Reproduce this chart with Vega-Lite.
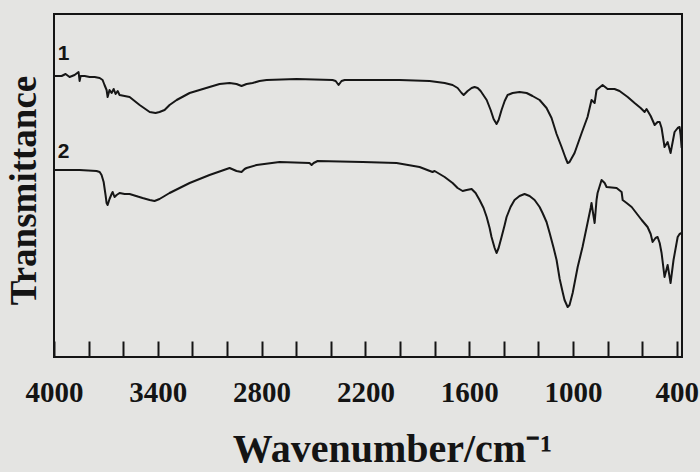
{
  "$schema": "https://vega.github.io/schema/vega-lite/v6.json",
  "width": 628,
  "height": 343,
  "autosize": {"type": "none"},
  "padding": {"left": 54, "top": 14, "right": 18, "bottom": 115},
  "background": "#e4e4e2",
  "config": {"view": {"stroke": "#141414", "strokeWidth": 2}},
  "datasets": {
    "spectra": [
      {"sample": "1", "wavenumber": 4000, "transmittance": 281},
      {"sample": "1", "wavenumber": 3956, "transmittance": 281},
      {"sample": "1", "wavenumber": 3933, "transmittance": 283},
      {"sample": "1", "wavenumber": 3910, "transmittance": 280},
      {"sample": "1", "wavenumber": 3881, "transmittance": 282},
      {"sample": "1", "wavenumber": 3858, "transmittance": 285},
      {"sample": "1", "wavenumber": 3852, "transmittance": 276},
      {"sample": "1", "wavenumber": 3846, "transmittance": 281},
      {"sample": "1", "wavenumber": 3823, "transmittance": 281},
      {"sample": "1", "wavenumber": 3794, "transmittance": 280},
      {"sample": "1", "wavenumber": 3765, "transmittance": 280},
      {"sample": "1", "wavenumber": 3736, "transmittance": 279},
      {"sample": "1", "wavenumber": 3719, "transmittance": 277},
      {"sample": "1", "wavenumber": 3708, "transmittance": 272},
      {"sample": "1", "wavenumber": 3696, "transmittance": 267},
      {"sample": "1", "wavenumber": 3690, "transmittance": 260},
      {"sample": "1", "wavenumber": 3679, "transmittance": 267},
      {"sample": "1", "wavenumber": 3667, "transmittance": 264},
      {"sample": "1", "wavenumber": 3655, "transmittance": 268},
      {"sample": "1", "wavenumber": 3644, "transmittance": 263},
      {"sample": "1", "wavenumber": 3632, "transmittance": 266},
      {"sample": "1", "wavenumber": 3621, "transmittance": 262},
      {"sample": "1", "wavenumber": 3592, "transmittance": 261},
      {"sample": "1", "wavenumber": 3563, "transmittance": 260},
      {"sample": "1", "wavenumber": 3505, "transmittance": 252},
      {"sample": "1", "wavenumber": 3447, "transmittance": 245},
      {"sample": "1", "wavenumber": 3413, "transmittance": 244},
      {"sample": "1", "wavenumber": 3390, "transmittance": 245},
      {"sample": "1", "wavenumber": 3361, "transmittance": 247},
      {"sample": "1", "wavenumber": 3332, "transmittance": 252},
      {"sample": "1", "wavenumber": 3291, "transmittance": 257},
      {"sample": "1", "wavenumber": 3216, "transmittance": 264},
      {"sample": "1", "wavenumber": 3101, "transmittance": 270},
      {"sample": "1", "wavenumber": 3043, "transmittance": 273},
      {"sample": "1", "wavenumber": 2985, "transmittance": 274},
      {"sample": "1", "wavenumber": 2945, "transmittance": 273},
      {"sample": "1", "wavenumber": 2916, "transmittance": 271},
      {"sample": "1", "wavenumber": 2887, "transmittance": 273},
      {"sample": "1", "wavenumber": 2852, "transmittance": 274},
      {"sample": "1", "wavenumber": 2812, "transmittance": 276},
      {"sample": "1", "wavenumber": 2771, "transmittance": 277},
      {"sample": "1", "wavenumber": 2598, "transmittance": 278},
      {"sample": "1", "wavenumber": 2390, "transmittance": 277},
      {"sample": "1", "wavenumber": 2372, "transmittance": 276},
      {"sample": "1", "wavenumber": 2355, "transmittance": 272},
      {"sample": "1", "wavenumber": 2338, "transmittance": 276},
      {"sample": "1", "wavenumber": 2320, "transmittance": 277},
      {"sample": "1", "wavenumber": 2002, "transmittance": 277},
      {"sample": "1", "wavenumber": 1829, "transmittance": 276},
      {"sample": "1", "wavenumber": 1742, "transmittance": 274},
      {"sample": "1", "wavenumber": 1696, "transmittance": 272},
      {"sample": "1", "wavenumber": 1667, "transmittance": 269},
      {"sample": "1", "wavenumber": 1644, "transmittance": 264},
      {"sample": "1", "wavenumber": 1632, "transmittance": 262},
      {"sample": "1", "wavenumber": 1609, "transmittance": 266},
      {"sample": "1", "wavenumber": 1586, "transmittance": 269},
      {"sample": "1", "wavenumber": 1569, "transmittance": 270},
      {"sample": "1", "wavenumber": 1551, "transmittance": 269},
      {"sample": "1", "wavenumber": 1534, "transmittance": 266},
      {"sample": "1", "wavenumber": 1499, "transmittance": 257},
      {"sample": "1", "wavenumber": 1476, "transmittance": 247},
      {"sample": "1", "wavenumber": 1459, "transmittance": 238},
      {"sample": "1", "wavenumber": 1442, "transmittance": 233},
      {"sample": "1", "wavenumber": 1430, "transmittance": 237},
      {"sample": "1", "wavenumber": 1413, "transmittance": 247},
      {"sample": "1", "wavenumber": 1395, "transmittance": 256},
      {"sample": "1", "wavenumber": 1378, "transmittance": 262},
      {"sample": "1", "wavenumber": 1349, "transmittance": 264},
      {"sample": "1", "wavenumber": 1309, "transmittance": 265},
      {"sample": "1", "wavenumber": 1268, "transmittance": 264},
      {"sample": "1", "wavenumber": 1234, "transmittance": 261},
      {"sample": "1", "wavenumber": 1193, "transmittance": 257},
      {"sample": "1", "wavenumber": 1153, "transmittance": 249},
      {"sample": "1", "wavenumber": 1124, "transmittance": 239},
      {"sample": "1", "wavenumber": 1095, "transmittance": 223},
      {"sample": "1", "wavenumber": 1066, "transmittance": 210},
      {"sample": "1", "wavenumber": 1043, "transmittance": 199},
      {"sample": "1", "wavenumber": 1031, "transmittance": 194},
      {"sample": "1", "wavenumber": 1020, "transmittance": 195},
      {"sample": "1", "wavenumber": 991, "transmittance": 204},
      {"sample": "1", "wavenumber": 950, "transmittance": 224},
      {"sample": "1", "wavenumber": 916, "transmittance": 240},
      {"sample": "1", "wavenumber": 893, "transmittance": 257},
      {"sample": "1", "wavenumber": 875, "transmittance": 254},
      {"sample": "1", "wavenumber": 864, "transmittance": 267},
      {"sample": "1", "wavenumber": 829, "transmittance": 272},
      {"sample": "1", "wavenumber": 800, "transmittance": 268},
      {"sample": "1", "wavenumber": 760, "transmittance": 268},
      {"sample": "1", "wavenumber": 731, "transmittance": 266},
      {"sample": "1", "wavenumber": 684, "transmittance": 260},
      {"sample": "1", "wavenumber": 644, "transmittance": 254},
      {"sample": "1", "wavenumber": 609, "transmittance": 249},
      {"sample": "1", "wavenumber": 586, "transmittance": 245},
      {"sample": "1", "wavenumber": 575, "transmittance": 248},
      {"sample": "1", "wavenumber": 551, "transmittance": 241},
      {"sample": "1", "wavenumber": 528, "transmittance": 232},
      {"sample": "1", "wavenumber": 511, "transmittance": 235},
      {"sample": "1", "wavenumber": 499, "transmittance": 235},
      {"sample": "1", "wavenumber": 488, "transmittance": 229},
      {"sample": "1", "wavenumber": 471, "transmittance": 210},
      {"sample": "1", "wavenumber": 453, "transmittance": 215},
      {"sample": "1", "wavenumber": 436, "transmittance": 204},
      {"sample": "1", "wavenumber": 424, "transmittance": 215},
      {"sample": "1", "wavenumber": 413, "transmittance": 225},
      {"sample": "1", "wavenumber": 395, "transmittance": 229},
      {"sample": "1", "wavenumber": 384, "transmittance": 230},
      {"sample": "1", "wavenumber": 378, "transmittance": 222},
      {"sample": "1", "wavenumber": 372, "transmittance": 209},
      {"sample": "2", "wavenumber": 4000, "transmittance": 187},
      {"sample": "2", "wavenumber": 3852, "transmittance": 187},
      {"sample": "2", "wavenumber": 3754, "transmittance": 186},
      {"sample": "2", "wavenumber": 3736, "transmittance": 185},
      {"sample": "2", "wavenumber": 3725, "transmittance": 182},
      {"sample": "2", "wavenumber": 3713, "transmittance": 175},
      {"sample": "2", "wavenumber": 3702, "transmittance": 162},
      {"sample": "2", "wavenumber": 3696, "transmittance": 154},
      {"sample": "2", "wavenumber": 3690, "transmittance": 152},
      {"sample": "2", "wavenumber": 3679, "transmittance": 158},
      {"sample": "2", "wavenumber": 3667, "transmittance": 163},
      {"sample": "2", "wavenumber": 3661, "transmittance": 165},
      {"sample": "2", "wavenumber": 3650, "transmittance": 160},
      {"sample": "2", "wavenumber": 3638, "transmittance": 162},
      {"sample": "2", "wavenumber": 3621, "transmittance": 164},
      {"sample": "2", "wavenumber": 3592, "transmittance": 163},
      {"sample": "2", "wavenumber": 3563, "transmittance": 163},
      {"sample": "2", "wavenumber": 3488, "transmittance": 159},
      {"sample": "2", "wavenumber": 3447, "transmittance": 157},
      {"sample": "2", "wavenumber": 3419, "transmittance": 156},
      {"sample": "2", "wavenumber": 3390, "transmittance": 158},
      {"sample": "2", "wavenumber": 3332, "transmittance": 164},
      {"sample": "2", "wavenumber": 3274, "transmittance": 169},
      {"sample": "2", "wavenumber": 3216, "transmittance": 174},
      {"sample": "2", "wavenumber": 3101, "transmittance": 182},
      {"sample": "2", "wavenumber": 2985, "transmittance": 189},
      {"sample": "2", "wavenumber": 2945, "transmittance": 186},
      {"sample": "2", "wavenumber": 2916, "transmittance": 185},
      {"sample": "2", "wavenumber": 2898, "transmittance": 188},
      {"sample": "2", "wavenumber": 2887, "transmittance": 189},
      {"sample": "2", "wavenumber": 2829, "transmittance": 192},
      {"sample": "2", "wavenumber": 2696, "transmittance": 195},
      {"sample": "2", "wavenumber": 2523, "transmittance": 194},
      {"sample": "2", "wavenumber": 2511, "transmittance": 192},
      {"sample": "2", "wavenumber": 2499, "transmittance": 194},
      {"sample": "2", "wavenumber": 2476, "transmittance": 196},
      {"sample": "2", "wavenumber": 2216, "transmittance": 195},
      {"sample": "2", "wavenumber": 2020, "transmittance": 194},
      {"sample": "2", "wavenumber": 1887, "transmittance": 190},
      {"sample": "2", "wavenumber": 1812, "transmittance": 185},
      {"sample": "2", "wavenumber": 1800, "transmittance": 186},
      {"sample": "2", "wavenumber": 1742, "transmittance": 180},
      {"sample": "2", "wavenumber": 1696, "transmittance": 174},
      {"sample": "2", "wavenumber": 1667, "transmittance": 169},
      {"sample": "2", "wavenumber": 1638, "transmittance": 166},
      {"sample": "2", "wavenumber": 1615, "transmittance": 167},
      {"sample": "2", "wavenumber": 1586, "transmittance": 168},
      {"sample": "2", "wavenumber": 1563, "transmittance": 164},
      {"sample": "2", "wavenumber": 1540, "transmittance": 157},
      {"sample": "2", "wavenumber": 1517, "transmittance": 149},
      {"sample": "2", "wavenumber": 1499, "transmittance": 140},
      {"sample": "2", "wavenumber": 1482, "transmittance": 129},
      {"sample": "2", "wavenumber": 1471, "transmittance": 120},
      {"sample": "2", "wavenumber": 1453, "transmittance": 109},
      {"sample": "2", "wavenumber": 1442, "transmittance": 104},
      {"sample": "2", "wavenumber": 1430, "transmittance": 109},
      {"sample": "2", "wavenumber": 1413, "transmittance": 120},
      {"sample": "2", "wavenumber": 1395, "transmittance": 132},
      {"sample": "2", "wavenumber": 1384, "transmittance": 140},
      {"sample": "2", "wavenumber": 1361, "transmittance": 150},
      {"sample": "2", "wavenumber": 1338, "transmittance": 157},
      {"sample": "2", "wavenumber": 1309, "transmittance": 161},
      {"sample": "2", "wavenumber": 1280, "transmittance": 163},
      {"sample": "2", "wavenumber": 1251, "transmittance": 161},
      {"sample": "2", "wavenumber": 1222, "transmittance": 157},
      {"sample": "2", "wavenumber": 1193, "transmittance": 150},
      {"sample": "2", "wavenumber": 1176, "transmittance": 144},
      {"sample": "2", "wavenumber": 1153, "transmittance": 135},
      {"sample": "2", "wavenumber": 1135, "transmittance": 124},
      {"sample": "2", "wavenumber": 1112, "transmittance": 109},
      {"sample": "2", "wavenumber": 1095, "transmittance": 97},
      {"sample": "2", "wavenumber": 1077, "transmittance": 78},
      {"sample": "2", "wavenumber": 1060, "transmittance": 65},
      {"sample": "2", "wavenumber": 1049, "transmittance": 57},
      {"sample": "2", "wavenumber": 1031, "transmittance": 50},
      {"sample": "2", "wavenumber": 1020, "transmittance": 52},
      {"sample": "2", "wavenumber": 1002, "transmittance": 64},
      {"sample": "2", "wavenumber": 973, "transmittance": 90},
      {"sample": "2", "wavenumber": 945, "transmittance": 110},
      {"sample": "2", "wavenumber": 916, "transmittance": 134},
      {"sample": "2", "wavenumber": 898, "transmittance": 149},
      {"sample": "2", "wavenumber": 893, "transmittance": 154},
      {"sample": "2", "wavenumber": 887, "transmittance": 147},
      {"sample": "2", "wavenumber": 875, "transmittance": 134},
      {"sample": "2", "wavenumber": 864, "transmittance": 157},
      {"sample": "2", "wavenumber": 858, "transmittance": 164},
      {"sample": "2", "wavenumber": 835, "transmittance": 177},
      {"sample": "2", "wavenumber": 817, "transmittance": 174},
      {"sample": "2", "wavenumber": 806, "transmittance": 170},
      {"sample": "2", "wavenumber": 748, "transmittance": 169},
      {"sample": "2", "wavenumber": 719, "transmittance": 165},
      {"sample": "2", "wavenumber": 713, "transmittance": 157},
      {"sample": "2", "wavenumber": 690, "transmittance": 154},
      {"sample": "2", "wavenumber": 661, "transmittance": 150},
      {"sample": "2", "wavenumber": 603, "transmittance": 137},
      {"sample": "2", "wavenumber": 569, "transmittance": 130},
      {"sample": "2", "wavenumber": 551, "transmittance": 123},
      {"sample": "2", "wavenumber": 540, "transmittance": 115},
      {"sample": "2", "wavenumber": 523, "transmittance": 119},
      {"sample": "2", "wavenumber": 511, "transmittance": 120},
      {"sample": "2", "wavenumber": 499, "transmittance": 114},
      {"sample": "2", "wavenumber": 488, "transmittance": 104},
      {"sample": "2", "wavenumber": 471, "transmittance": 80},
      {"sample": "2", "wavenumber": 453, "transmittance": 92},
      {"sample": "2", "wavenumber": 436, "transmittance": 74},
      {"sample": "2", "wavenumber": 419, "transmittance": 97},
      {"sample": "2", "wavenumber": 395, "transmittance": 120},
      {"sample": "2", "wavenumber": 384, "transmittance": 123},
      {"sample": "2", "wavenumber": 372, "transmittance": 124}
    ],
    "labels": [
      {"label": "1", "wavenumber": 3979, "transmittance": 297},
      {"label": "2", "wavenumber": 3979, "transmittance": 199}
    ]
  },
  "layer": [
    {
      "data": {"name": "spectra"},
      "mark": {"type": "line", "color": "#161616", "strokeWidth": 2, "strokeJoin": "round"},
      "encoding": {
        "x": {
          "field": "wavenumber",
          "type": "quantitative",
          "scale": {"domain": [4000, 370], "nice": false, "zero": false},
          "axis": {
            "values": [4000, 3800, 3600, 3400, 3200, 3000, 2800, 2600, 2400, 2200, 2000, 1800, 1600, 1400, 1200, 1000, 800, 600, 400],
            "tickCount": 40,
            "format": "d",
            "labelExpr": "datum.value % 600 == 400 ? datum.label : ''",
            "domain": false,
            "grid": false,
            "tickSize": -16,
            "tickWidth": 2,
            "tickColor": "#141414",
            "labelFont": "Liberation Serif",
            "labelFontWeight": "bold",
            "labelFontSize": 29,
            "labelColor": "#141414",
            "labelPadding": 37,
            "labelFlush": false,
            "labelOverlap": false,
            "title": "Wavenumber/cm⁻¹",
            "titleFont": "Liberation Serif",
            "titleFontWeight": "bold",
            "titleFontSize": 40,
            "titleColor": "#141414",
            "titleX": 338,
            "titleY": 104,
            "titleAlign": "center",
            "titleBaseline": "alphabetic"
          }
        },
        "y": {
          "field": "transmittance",
          "type": "quantitative",
          "scale": {"domain": [0, 343], "nice": false, "zero": false},
          "axis": {
            "domain": false,
            "grid": false,
            "ticks": false,
            "labels": false,
            "title": "Transmittance",
            "titleFont": "Liberation Serif",
            "titleFontWeight": "bold",
            "titleFontSize": 37,
            "titleColor": "#141414",
            "titleAngle": -90,
            "titleX": -19,
            "titleY": 176,
            "titleAlign": "center",
            "titleBaseline": "alphabetic"
          }
        },
        "detail": {"field": "sample", "type": "nominal"}
      }
    },
    {
      "data": {"name": "labels"},
      "mark": {"type": "text", "align": "left", "baseline": "alphabetic", "font": "Liberation Sans", "fontWeight": "bold", "fontSize": 21, "color": "#141414"},
      "encoding": {
        "x": {"field": "wavenumber", "type": "quantitative"},
        "y": {"field": "transmittance", "type": "quantitative"},
        "text": {"field": "label"}
      }
    }
  ]
}
